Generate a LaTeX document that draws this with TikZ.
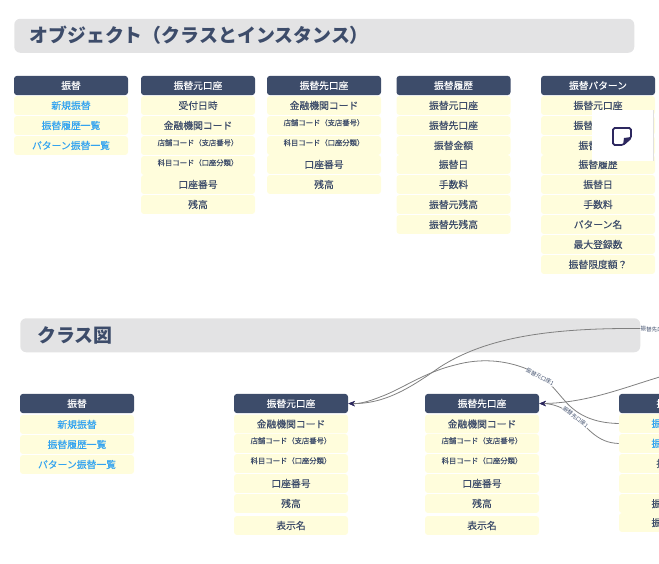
\documentclass[tikz,border=0pt]{standalone}
\usepackage{fontspec}
\setmainfont{Noto Sans CJK JP}
\newfontfamily\medfont[FakeBold=0.12]{Noto Sans CJK JP}
\usetikzlibrary{positioning,arrows.meta}
\definecolor{navy}{RGB}{61,76,106}
\definecolor{cream}{RGB}{255,253,220}
\definecolor{band}{RGB}{227,227,228}
\definecolor{linkblue}{RGB}{51,163,240}
\definecolor{noteink}{RGB}{45,40,95}
\tikzset{
  headbox/.style={draw=none,fill=navy,text=white,rounded corners=2.2pt,minimum width=85.5pt,minimum height=14.4pt,inner sep=0pt,font=\fontsize{7.3pt}{8pt}\medfont},
  rowbox/.style={fill=cream,text=navy,rounded corners=2.2pt,minimum width=85.5pt,minimum height=14.2pt,inner sep=0pt,font=\fontsize{7.35pt}{8pt}\medfont},
  linkbox/.style={rowbox,text=linkblue},
  smallbox/.style={rowbox,text height=3pt,text depth=3pt,font=\fontsize{5.5pt}{6pt}\medfont},
  bandbox/.style={fill=band,rounded corners=4.5pt,anchor=north west,minimum height=25.5pt,inner sep=0pt},
  titletext/.style={text=navy,anchor=west,inner sep=0pt,font=\fontsize{14.2pt}{16pt}\selectfont\bfseries},
  edgelabel/.style={text=navy,fill=white,inner sep=0.3pt,font=\fontsize{4.1pt}{4.5pt}\selectfont},
  linkline/.style={draw=black!50,line width=0.6pt,-{Stealth[length=5pt,width=4pt,color=noteink]}},
}
\begin{document}
\begin{tikzpicture}[x=0.75pt,y=0.75pt,yscale=-1,xscale=1]
\useasboundingbox (0,0) rectangle (659,563);
\clip (0,0) rectangle (659,563);

% section titles
\node [bandbox,minimum width=465pt] (band1) at (14,18.5) {};
\node [titletext] (title1) at (29,35.5) {オブジェクト（クラスとインスタンス）};
\node [bandbox,minimum width=465pt] (band2) at (20,318) {};
\node [titletext] (title2) at (37,335) {クラス図};

% object: transfer
\node [headbox] (ohead1) at (71,85.5) {振替};
\foreach \y/\t in {105.5/新規振替,125.5/振替履歴一覧,145.5/パターン振替一覧}
  \node [linkbox] at (71,\y) {\t};

% object: source account
\node [headbox] (ohead2) at (198,85.5) {振替元口座};
\foreach \y/\t in {105.5/受付日時,125.5/金融機関コード,184.5/口座番号,204.5/残高}
  \node [rowbox] at (198,\y) {\t};
\foreach \y/\t in {145.5/店舗コード（支店番号）,165.5/科目コード（口座分類）}
  \node [smallbox] at (198,\y) {\t};

% object: destination account
\node [headbox] (ohead3) at (324,85.5) {振替先口座};
\foreach \y/\t in {105.5/金融機関コード,164.5/口座番号,184.5/残高}
  \node [rowbox] at (324,\y) {\t};
\foreach \y/\t in {125.5/店舗コード（支店番号）,145.5/科目コード（口座分類）}
  \node [smallbox] at (324,\y) {\t};

% object: history
\node [headbox] (ohead4) at (453.5,85.5) {振替履歴};
\foreach \y/\t in {105.5/振替元口座,125.5/振替先口座,145.5/振替金額,164.5/振替日,184.5/手数料,204.5/振替元残高,224.5/振替先残高}
  \node [rowbox] at (453.5,\y) {\t};

% object: pattern
\node [headbox] (ohead5) at (598,85.5) {振替パターン};
\foreach \y/\t in {105.5/振替元口座,125.5/振替先口座,145.5/振替金額,164.5/振替履歴,184.5/振替日,204.5/手数料,224.5/パターン名,244.5/最大登録数,264.5/振替限度額？}
  \node [rowbox] at (598,\y) {\t};

% note popup
\fill [white] (592,110.5) rectangle (653,161);
\draw [black!12,line width=0.3pt] (653,110.5) -- (653,161);
\draw [noteink,line width=1.3pt,rounded corners=1.2pt] (613,128) -- (631,128) -- (631,138) -- (623,145) -- (613,145) -- cycle;
\fill [noteink] (631,137) -- (624,138) -- (623,145) -- cycle;

% class: transfer
\node [headbox] (chead1) at (77,403.5) {振替};
\foreach \y/\t in {424.5/新規振替,444.5/振替履歴一覧,464.5/パターン振替一覧}
  \node [linkbox] at (77,\y) {\t};

% class: source account
\node [headbox] (chead2) at (291,403.5) {振替元口座};
\foreach \y/\t in {424/金融機関コード,483.5/口座番号,503.5/残高,525.5/表示名}
  \node [rowbox] at (291,\y) {\t};
\foreach \y/\t in {443.5/店舗コード（支店番号）,463.5/科目コード（口座分類）}
  \node [smallbox] at (291,\y) {\t};

% class: destination account
\node [headbox] (chead3) at (482,403.5) {振替先口座};
\foreach \y/\t in {424/金融機関コード,483.5/口座番号,503.5/残高,525.5/表示名}
  \node [rowbox] at (482,\y) {\t};
\foreach \y/\t in {443.5/店舗コード（支店番号）,463.5/科目コード（口座分類）}
  \node [smallbox] at (482,\y) {\t};

% class: history
\node [headbox] (chead4) at (676,403.5) {振替履歴};
\foreach \n/\y/\t in {r1/423.5/振替元口座,r2/443.5/振替先口座}
  \node [linkbox] (\n) at (676,\y) {\t};
\foreach \y/\t in {463.5/振替金額,483.5/振替日,503.5/振替元残高,522.5/振替先残高}
  \node [rowbox] at (676,\y) {\t};

% relations
\coordinate (off1) at (670,329);
\coordinate (off2) at (670,374);
\draw [linkline] (off1) .. controls (560,326) and (490,335) .. (440,367) .. controls (410,388) and (385,404) .. (chead2.east);
\draw [linkline] (r1.west) .. controls (595,423) and (578,416) .. (565,401) .. controls (555,390) and (545,375) .. (527,369) .. controls (505,360) and (480,358) .. (455,365) .. controls (425,372) and (400,390) .. (380,397) .. controls (370,401) and (360,404) .. (chead2.east);
\draw [linkline] (off2) .. controls (630,385) and (590,403) .. (chead3.east);
\draw [linkline] (r2.west) .. controls (608,443) and (600,440) .. (590,431) .. controls (578,420) and (565,404) .. (chead3.east);

\node [edgelabel,rotate=-3] (lab1) at (656,329.5) {振替先口座1};
\node [edgelabel,rotate=-27] (lab2) at (540,377) {振替元口座1};
\node [edgelabel,rotate=-38] (lab3) at (575.5,417) {振替先口座1};
\end{tikzpicture}
\end{document}
